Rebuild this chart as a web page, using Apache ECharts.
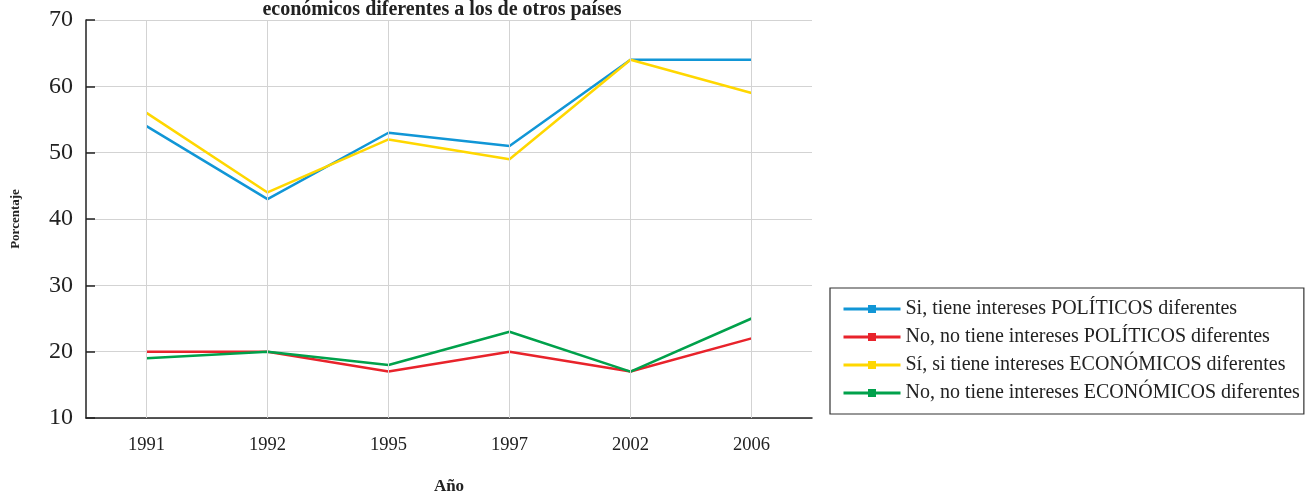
<!DOCTYPE html>
<html>
<head>
<meta charset="utf-8">
<script src="https://cdn.jsdelivr.net/npm/echarts@6/dist/echarts.min.js"></script>
<style>
  html, body { margin: 0; padding: 0; background: #fff; }
  #chart { width: 1310px; height: 495px; }
</style>
</head>
<body>
<div id="chart"></div>
<script>
// datos
var years = ['1991', '1992', '1995', '1997', '2002', '2006'];
var siPoliticos = [54, 43, 53, 51, 64, 64];
var noPoliticos = [20, 20, 17, 20, 17, 22];
var siEconomicos = [56, 44, 52, 49, 64, 59];
var noEconomicos = [19, 20, 18, 23, 17, 25];
var seriesNames = [
  'Si, tiene intereses POLÍTICOS diferentes',
  'No, no tiene intereses POLÍTICOS diferentes',
  'Sí, si tiene intereses ECONÓMICOS diferentes',
  'No, no tiene intereses ECONÓMICOS diferentes'
];
var colors = ['#1196d6', '#e8232b', '#ffd700', '#00a14b'];

var serif = 'Liberation Serif';
var chart = echarts.init(document.getElementById('chart'));

function lineSeries(name, data, color) {
  return {
    name: name,
    type: 'line',
    data: data,
    symbol: 'rect',
    showSymbol: false,
    z: 3,
    lineStyle: { color: color, width: 2.5 },
    itemStyle: { color: color }
  };
}

var option = {
  animation: false,
  title: {
    text: 'económicos diferentes a los de otros países',
    left: 437,
    textAlign: 'center',
    top: -5,
    textStyle: { fontFamily: serif, fontWeight: 'bold', fontSize: 20, color: '#222' }
  },
  grid: { left: 86, right: 498, top: 20, bottom: 77, outerBoundsMode: 'none' },
  legend: {
    data: seriesNames,
    orient: 'vertical',
    left: 830,
    top: 288,
    padding: [11, 4, 11, 12],
    itemWidth: 57,
    itemHeight: 10,
    itemGap: 8,
    borderColor: '#333',
    borderWidth: 1.2,
    lineStyle: { width: 3 },
    textStyle: { fontFamily: serif, fontSize: 20, color: '#222' }
  },
  xAxis: {
    type: 'category',
    data: years,
    boundaryGap: true,
    name: 'Año',
    nameLocation: 'middle',
    nameGap: 60,
    nameTextStyle: { fontFamily: serif, fontWeight: 'bold', fontSize: 17, color: '#222' },
    axisLine: { lineStyle: { color: '#222', width: 1.5 } },
    axisTick: { inside: true, length: 8, interval: 0, lineStyle: { color: '#222', width: 1.5 } },
    axisLabel: { fontFamily: serif, fontSize: 18.5, color: '#222', margin: 18 },
    splitLine: { show: false }
  },
  yAxis: {
    type: 'value',
    min: 10,
    max: 70,
    interval: 10,
    name: 'Porcentaje',
    nameLocation: 'middle',
    nameRotate: 90,
    nameGap: 64,
    nameTextStyle: { fontFamily: serif, fontWeight: 'bold', fontSize: 13, color: '#222' },
    axisLine: { show: true, lineStyle: { color: '#222', width: 1.5 } },
    axisTick: { show: true, inside: true, length: 9, lineStyle: { color: '#222', width: 1.5 } },
    axisLabel: { fontFamily: serif, fontSize: 24, color: '#222', margin: 13 },
    splitLine: { show: true, lineStyle: { color: '#d3d3d3', width: 1 } }
  },
  series: [
    {
      name: 'grid',
      type: 'line',
      data: [],
      z: 1,
      silent: true,
      markLine: {
        silent: true,
        symbol: 'none',
        label: { show: false },
        lineStyle: { color: '#d3d3d3', type: 'solid', width: 1 },
        data: years.map(function (y) { return { xAxis: y }; })
      }
    },
    lineSeries(seriesNames[0], siPoliticos, colors[0]),
    lineSeries(seriesNames[1], noPoliticos, colors[1]),
    lineSeries(seriesNames[2], siEconomicos, colors[2]),
    lineSeries(seriesNames[3], noEconomicos, colors[3])
  ]
};

chart.setOption(option);
</script>
</body>
</html>
